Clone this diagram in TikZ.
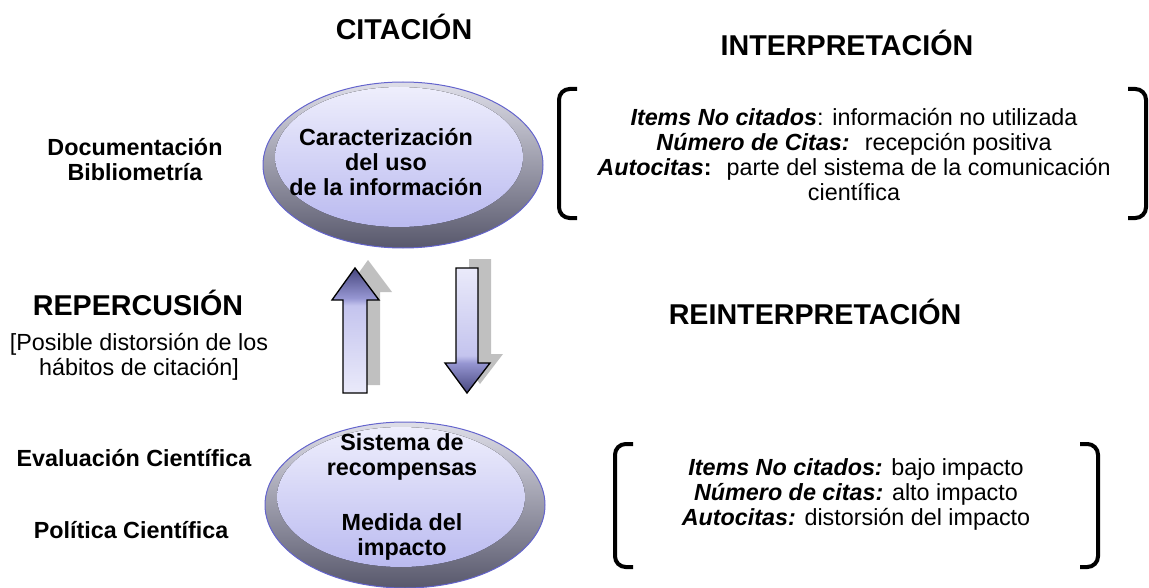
\documentclass[tikz,border=0pt]{standalone}
\usepackage{fontspec}
\setmainfont{Liberation Sans}

\definecolor{rimlight}{RGB}{222,222,232}
\definecolor{rimdark}{RGB}{88,88,108}
\definecolor{rimline}{RGB}{100,100,205}
\definecolor{corelight}{RGB}{238,238,252}
\definecolor{coredark}{RGB}{186,186,240}
\definecolor{headdark}{RGB}{70,70,126}
\definecolor{headmid}{RGB}{150,150,210}
\definecolor{shaftmid}{RGB}{196,196,238}
\definecolor{shaftlight}{RGB}{234,234,250}
\definecolor{shadowgray}{RGB}{192,192,192}

\pgfdeclareverticalshading{upshade}{100bp}{color(0bp)=(shaftlight); color(25bp)=(shaftlight); color(60bp)=(shaftmid); color(63bp)=(headmid); color(75bp)=(headdark); color(100bp)=(headdark)}
\pgfdeclareverticalshading{downshade}{100bp}{color(0bp)=(headdark); color(25bp)=(headdark); color(37bp)=(headmid); color(40bp)=(shaftmid); color(75bp)=(shaftlight); color(100bp)=(shaftlight)}

\tikzset{every picture/.style={line width=0.75pt}}

\begin{document}
\begin{tikzpicture}[x=0.75pt,y=0.75pt,yscale=-1,xscale=1,
    heading/.style={font=\fontsize{21.5}{24}\selectfont\bfseries, inner sep=0.75pt},
    sidetext/.style={font=\fontsize{17.5}{18.75}\selectfont\bfseries, align=center, inner sep=0.75pt},
    bubbletext/.style={font=\fontsize{17.5}{18.75}\selectfont\bfseries, align=center, inner sep=0.75pt},
    bodytext/.style={font=\fontsize{17.5}{18.75}\selectfont, align=center, inner sep=0.75pt},
    rim/.style={draw=rimline, top color=rimlight, bottom color=rimdark},
    core/.style={top color=corelight, bottom color=coredark},
    blockshadow/.style={fill=shadowgray},
    uparrow/.style={draw=black, line width=1pt, shading=upshade},
    downarrow/.style={draw=black, line width=1pt, shading=downshade},
    bracketline/.style={line width=3pt, rounded corners=8pt}]
\useasboundingbox (0,0) rectangle (1149,588);

%Shape: Ellipse [id:citacion] 
\draw [rim] (403,165) ellipse [x radius=140, y radius=83];
\fill [core] (399,157) ellipse [x radius=124, y radius=70];
%Shape: Ellipse [id:recompensa] 
\draw [rim] (405,505) ellipse [x radius=140, y radius=83];
\fill [core] (401,497) ellipse [x radius=124, y radius=70];

%Shape: Up Arrow [id:subida] 
\fill [blockshadow] (356,385) -- (356,292) -- (345,292) -- (368,260) -- (392,292) -- (380,292) -- (380,385) -- cycle ;
\draw [uparrow] (343,393) -- (343,300) -- (332,300) -- (355,268) -- (379,300) -- (367,300) -- (367,393) -- cycle ;
%Shape: Down Arrow [id:bajada] 
\fill [blockshadow] (469,259) -- (491,259) -- (491,354) -- (503,354) -- (480,384) -- (458,354) -- (469,354) -- cycle ;
\draw [downarrow] (456,268) -- (478,268) -- (478,363) -- (490,363) -- (467,393) -- (445,363) -- (456,363) -- cycle ;

%Shape: Brackets [id:interpretacion] 
\draw [bracketline] (577,89) -- (559,89) -- (559,218) -- (577,218) ;
\draw [bracketline] (1128,89) -- (1146,89) -- (1146,218) -- (1128,218) ;
%Shape: Brackets [id:reinterpretacion] 
\draw [bracketline] (633,444) -- (615,444) -- (615,567) -- (633,567) ;
\draw [bracketline] (1080,444) -- (1098,444) -- (1098,567) -- (1080,567) ;

% Text Node
\draw (404,27) node [heading] (citacion) {CITACIÓN};
% Text Node
\draw (847,43) node [heading] (interpretacion) {INTERPRETACIÓN};
% Text Node
\draw (138,303) node [heading] (repercusion) {REPERCUSIÓN};
% Text Node
\draw (815,312) node [heading] (reinterpretacion) {REINTERPRETACIÓN};
% Text Node
\draw (135,160) node [sidetext] (documentacion) {Documentación\\Bibliometría};
% Text Node
\draw (139,357) node [bodytext] (distorsion) {[Posible distorsión de los\\hábitos de citación]};
% Text Node
\draw (134,458) node [sidetext] (evaluacion) {Evaluación Científica};
% Text Node
\draw (131,530) node [sidetext] (politica) {Política Científica};
% Text Node
\draw (386,162) node [bubbletext] (uso) {Caracterización\\del uso\\de la información};
% Text Node
\draw (402,497) node [bubbletext] (impacto) {Sistema de\\recompensas\\[22pt]Medida del\\impacto};
% Text Node
\draw (854,155) node [bodytext] (items) {\textbf{\textit{Items No citados}}: información no utilizada\\\textbf{\textit{Número de Citas:}}~ recepción positiva\\\textbf{\textit{Autocitas}}\textbf{:}~ parte del sistema de la comunicación\\científica};
% Text Node
\draw (856,494) node [bodytext] (impactos) {\textbf{\textit{Items No citados:}} bajo impacto\\\textbf{\textit{Número de citas:}} alto impacto\\\textbf{\textit{Autocitas:}} distorsión del impacto};

\end{tikzpicture}
\end{document}
